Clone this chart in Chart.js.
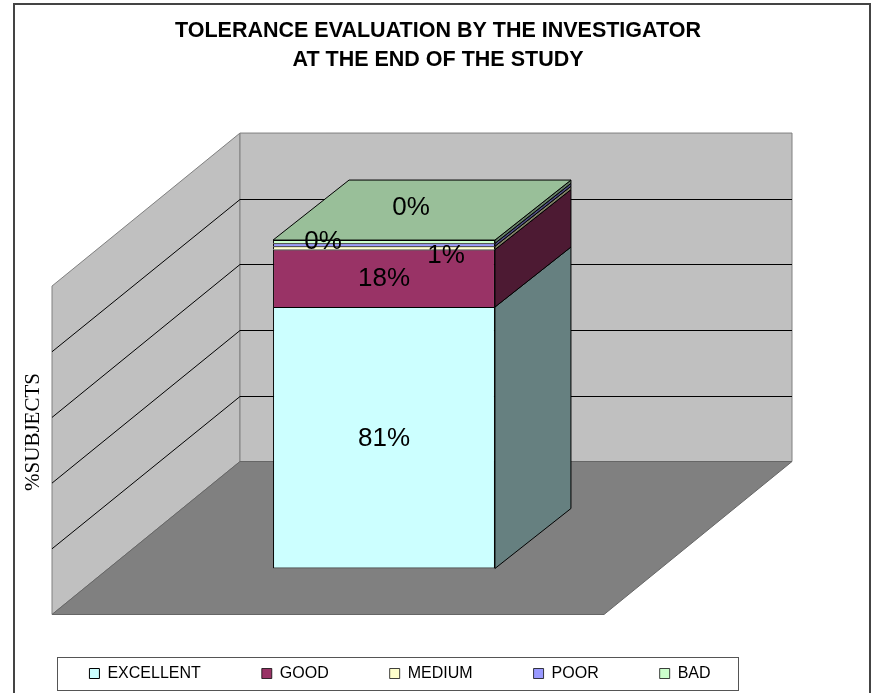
<!DOCTYPE html>
<html>
<head>
<meta charset="utf-8">
<title>Tolerance evaluation</title>
<style>
    html, body { margin: 0; padding: 0; background: #fff; }
    canvas { display: block; }
</style>
<script src="https://cdn.jsdelivr.net/npm/chart.js@4/dist/chart.umd.min.js"></script>
</head>
<body>
<canvas id="tolerance-canvas" width="874" height="693"></canvas>
<script>
const categories = [''];
const seriesNames = ['EXCELLENT', 'GOOD', 'MEDIUM', 'POOR', 'BAD'];
const seriesValues = [79.6, 17.5, 1.0, 0.9, 1.0];
const shownLabels = ['81%', '18%', '0%', '1%', '0%'];
const seriesColors = ['#CCFFFF', '#993366', '#FFFFCC', '#9999FF', '#CCFFCC'];

// Excel drops its 3D labels in odd places, these nudge them off the segment centre
const labelNudgeX = [0, 0, -61, 62, 27];
const labelNudgeY = [1, 1, -6, 11, -34];

// how far the walls go behind the bar plane and the floor comes in front of it
const wallDepth = { x: 132, y: -107 };
const floorFront = { x: -56, y: 46 };
const barDepth = { x: 76, y: -60 };

// multiply a hex colour to get the shaded faces of the bar
function shade(hex, factor) {
    const n = parseInt(hex.slice(1), 16);
    const r = Math.round((n >> 16 & 255) * factor);
    const g = Math.round((n >> 8 & 255) * factor);
    const b = Math.round((n & 255) * factor);
    return `rgb(${r},${g},${b})`;
}

function poly(ctx, points, fill, stroke, lineWidth) {
    ctx.beginPath();
    points.forEach((p, i) => {
        if (i === 0) ctx.moveTo(p[0], p[1]);
        else ctx.lineTo(p[0], p[1]);
    });
    ctx.closePath();
    ctx.fillStyle = fill;
    ctx.fill();
    ctx.strokeStyle = stroke;
    ctx.lineWidth = lineWidth;
    ctx.stroke();
}

const frame3d = {
    id: 'frame3d',
    afterLayout(chart) {
        // the legend sits left of centre but the title does not
        chart.titleBlock.left += 38;
        chart.titleBlock.right += 38;
    },
    beforeDraw(chart) {
        const ctx = chart.ctx;
        const area = chart.chartArea;
        const y = chart.scales.y;
        ctx.save();
        ctx.fillStyle = '#fff';
        ctx.fillRect(0, 0, chart.width, chart.height);

        // outer picture border, its bottom edge is cut off in the original
        ctx.strokeStyle = '#444';
        ctx.lineWidth = 2;
        ctx.strokeRect(14, 4, 856, 700);

        // legend frame
        ctx.strokeStyle = '#555';
        ctx.lineWidth = 1;
        ctx.strokeRect(57.5, 657.5, 681, 33);

        const fl = [area.left + floorFront.x, area.bottom + floorFront.y];
        const fr = [area.right + floorFront.x, area.bottom + floorFront.y];
        const bl = [area.left + wallDepth.x, area.bottom + wallDepth.y];
        const br = [area.right + wallDepth.x, area.bottom + wallDepth.y];
        const h = area.bottom - area.top;

        poly(ctx, [fl, bl, [bl[0], bl[1] - h], [fl[0], fl[1] - h]], '#C0C0C0', '#808080', 1);
        poly(ctx, [bl, br, [br[0], br[1] - h], [bl[0], bl[1] - h]], '#C0C0C0', '#808080', 1);
        poly(ctx, [fl, fr, br, bl], '#808080', '#666', 1);

        // gridlines run along the left wall and then across the back wall
        ctx.strokeStyle = '#000';
        ctx.lineWidth = 1;
        y.ticks.forEach(t => {
            if (t.value === y.min || t.value === y.max) return;
            const up = y.getPixelForValue(t.value) - area.bottom;
            const backY = Math.round(bl[1] + up) + 0.5;
            ctx.beginPath();
            ctx.moveTo(fl[0], fl[1] + up);
            ctx.lineTo(bl[0], backY);
            ctx.lineTo(br[0], backY);
            ctx.stroke();
        });
        ctx.restore();
    },
    beforeDatasetsDraw(chart) {
        const ctx = chart.ctx;
        ctx.save();
        ctx.lineJoin = 'round';
        chart.data.datasets.forEach((ds, i) => {
            const bar = chart.getDatasetMeta(i).data[0];
            const right = bar.x + bar.width / 2;
            const left = bar.x - bar.width / 2;
            poly(ctx, [
                [right, bar.base],
                [right + barDepth.x, bar.base + barDepth.y],
                [right + barDepth.x, bar.y + barDepth.y],
                [right, bar.y]
            ], shade(ds.backgroundColor, 0.5), '#000', 1);
            // only the last segment shows its lid
            if (i === chart.data.datasets.length - 1) {
                poly(ctx, [
                    [left, bar.y],
                    [left + barDepth.x, bar.y + barDepth.y],
                    [right + barDepth.x, bar.y + barDepth.y],
                    [right, bar.y]
                ], shade(ds.backgroundColor, 0.75), '#000', 1);
            }
        });
        ctx.restore();
    },
    afterDatasetsDraw(chart) {
        const ctx = chart.ctx;
        ctx.save();
        ctx.fillStyle = '#000';
        ctx.font = '26px "Liberation Sans", Arial, sans-serif';
        ctx.textAlign = 'center';
        ctx.textBaseline = 'middle';
        chart.data.datasets.forEach((ds, i) => {
            const bar = chart.getDatasetMeta(i).data[0];
            const mid = (bar.y + bar.base) / 2;
            ctx.fillText(shownLabels[i], bar.x + labelNudgeX[i], mid + labelNudgeY[i]);
        });

        // axis title, Excel centres it on the whole 3D box not on the bar plane
        ctx.font = '21px "Liberation Serif", "Times New Roman", serif';
        ctx.translate(33, 432);
        ctx.rotate(-Math.PI / 2);
        ctx.fillText('%SUBJECTS', 0, 0);
        ctx.restore();
    }
};

const datasets = seriesNames.map((name, i) => ({
    label: name,
    data: [seriesValues[i]],
    backgroundColor: seriesColors[i],
    borderColor: '#000',
    // no bottom edge above the first segment or the thin bands turn solid black
    borderWidth: { top: 1, left: 1, right: 1, bottom: i === 0 ? 1 : 0 },
    borderSkipped: false,
    barPercentage: 1,
    categoryPercentage: 0.402
}));

const hiddenAxis = {
    grid: { display: false },
    border: { display: false },
    ticks: { display: false }
};

new Chart(document.getElementById('tolerance-canvas').getContext('2d'), {
    type: 'bar',
    data: { labels: categories, datasets: datasets },
    plugins: [frame3d],
    options: {
        responsive: false,
        animation: false,
        layout: { padding: { left: 0, right: 74, top: 0, bottom: 1.5 } },
        scales: {
            x: {
                ...hiddenAxis,
                stacked: true,
                afterFit: (scale) => { scale.height = 36; }
            },
            y: {
                ...hiddenAxis,
                stacked: true,
                min: 0,
                max: 100,
                ticks: { display: false, stepSize: 20 },
                afterFit: (scale) => { scale.width = 108; }
            },
            // only here to hold the plot off the right hand side
            spacer: {
                ...hiddenAxis,
                position: 'right',
                afterFit: (scale) => { scale.width = 140; }
            }
        },
        plugins: {
            title: {
                display: true,
                text: ['TOLERANCE EVALUATION BY THE INVESTIGATOR', 'AT THE END OF THE STUDY'],
                color: '#000',
                font: { family: '"Liberation Sans", Arial, sans-serif', size: 21.5, weight: 'bold', lineHeight: 1.35 },
                padding: { top: 17, bottom: 165 }
            },
            legend: {
                position: 'bottom',
                labels: {
                    boxWidth: 10,
                    boxHeight: 10,
                    padding: 61,
                    color: '#000',
                    font: { family: '"Liberation Sans", Arial, sans-serif', size: 16 }
                }
            },
            tooltip: { enabled: false }
        }
    }
});
</script>
</body>
</html>
